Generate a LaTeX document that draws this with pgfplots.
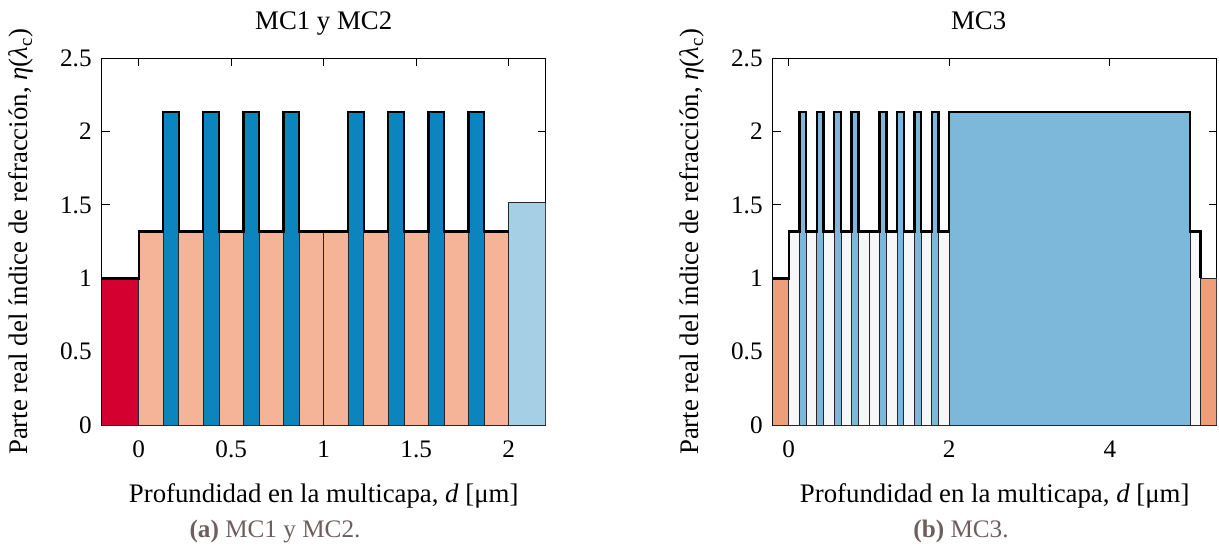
\documentclass[border=0pt]{standalone}
\usepackage{fontspec}
\setmainfont{Liberation Serif}
\usepackage{pgfplots}
\pgfplotsset{compat=1.18}

% colores de las capas
\definecolor{aire}{HTML}{D40030}
\definecolor{bajo}{HTML}{F5B497}
\definecolor{alto}{HTML}{0C85BE}
\definecolor{vidrio}{HTML}{A4CFE4}
\definecolor{aireb}{HTML}{EF9E7A}
\definecolor{bajob}{HTML}{F7F7F7}
\definecolor{altob}{HTML}{7DB7D9}
\definecolor{pie}{RGB}{110,95,95}

% una capa: inicio, fin, índice, color
\newcommand{\capa}[4]{%
  \addplot[draw=black!85, line width=0.45pt, fill=#4]
    coordinates {(#1,0) (#1,#3) (#2,#3) (#2,0)} -- cycle;}

\newcommand{\fuente}{\fontsize{12.6}{15}\selectfont}
\newcommand{\fuenteg}{\fontsize{13.4}{16}\selectfont}

\pgfplotsset{
  multicapa/.style={
    scale only axis,
    width=222pt, height=183.35pt,
    anchor=south west,
    ymin=0, ymax=2.5,
    ytick={0,0.5,1,1.5,2,2.5},
    axis line style={line width=0.5pt},
    tick style={black, line width=0.5pt},
    major tick length=4pt,
    /pgf/number format/assume math mode=true,
    every tick label/.append style={font=\fuente},
    xticklabel style={anchor=base, yshift=-16pt},
    yticklabel style={xshift=-1.5pt},
    label style={font=\fuenteg},
    title style={font=\fuenteg, at={(0.5,1)}, anchor=base, yshift=8.5pt},
    xlabel style={at={(axis description cs:0.5,0)}, anchor=base, yshift=-38.5pt},
    ylabel style={at={(axis description cs:-0.182,0.5)}, anchor=center},
    xlabel={Profundidad en la multicapa, \textit{d} [μm]},
    ylabel={Parte real del índice de refracción, \textit{η}(\textit{λ}\textsubscript{c})},
  }
}

\begin{document}
\begin{tikzpicture}
\path[use as bounding box] (0,0) rectangle (609.5pt,273.5pt);

% ---------------- MC1 y MC2 ----------------
\begin{axis}[multicapa, at={(50.85pt,61pt)},
  xmin=-0.2, xmax=2.2, xtick={0,0.5,1,1.5,2},
  title={MC1 y MC2}]
\capa{-0.2}{0}{1}{aire}
% MC1
\capa{0}{0.132}{1.32}{bajo}
\capa{0.132}{0.217}{2.135}{alto}
\capa{0.217}{0.349}{1.32}{bajo}
\capa{0.349}{0.434}{2.135}{alto}
\capa{0.434}{0.566}{1.32}{bajo}
\capa{0.566}{0.651}{2.135}{alto}
\capa{0.651}{0.783}{1.32}{bajo}
\capa{0.783}{0.868}{2.135}{alto}
\capa{0.868}{1}{1.32}{bajo}
% MC2
\capa{1}{1.132}{1.32}{bajo}
\capa{1.132}{1.217}{2.135}{alto}
\capa{1.217}{1.349}{1.32}{bajo}
\capa{1.349}{1.434}{2.135}{alto}
\capa{1.434}{1.566}{1.32}{bajo}
\capa{1.566}{1.651}{2.135}{alto}
\capa{1.651}{1.783}{1.32}{bajo}
\capa{1.783}{1.868}{2.135}{alto}
\capa{1.868}{2}{1.32}{bajo}
% sustrato
\capa{2}{2.2}{1.515}{vidrio}
% perfil de índice
\addplot[black, line width=1.2pt, const plot] coordinates {
  (-0.2,1) (0,1.32)
  (0.132,2.135) (0.217,1.32) (0.349,2.135) (0.434,1.32)
  (0.566,2.135) (0.651,1.32) (0.783,2.135) (0.868,1.32)
  (1,1.32)
  (1.132,2.135) (1.217,1.32) (1.349,2.135) (1.434,1.32)
  (1.566,2.135) (1.651,1.32) (1.783,2.135) (1.868,1.32)
  (2,1.32)};
\end{axis}

% ---------------- MC3 ----------------
\begin{axis}[multicapa, at={(386.35pt,61pt)},
  xmin=-0.2, xmax=5.332, xtick={0,2,4},
  title={MC3}, title style={xshift=-8pt}]
\capa{-0.2}{0}{1}{aireb}
\capa{0}{0.132}{1.32}{bajob}
\capa{0.132}{0.217}{2.135}{altob}
\capa{0.217}{0.349}{1.32}{bajob}
\capa{0.349}{0.434}{2.135}{altob}
\capa{0.434}{0.566}{1.32}{bajob}
\capa{0.566}{0.651}{2.135}{altob}
\capa{0.651}{0.783}{1.32}{bajob}
\capa{0.783}{0.868}{2.135}{altob}
\capa{0.868}{1}{1.32}{bajob}
\capa{1}{1.132}{1.32}{bajob}
\capa{1.132}{1.217}{2.135}{altob}
\capa{1.217}{1.349}{1.32}{bajob}
\capa{1.349}{1.434}{2.135}{altob}
\capa{1.434}{1.566}{1.32}{bajob}
\capa{1.566}{1.651}{2.135}{altob}
\capa{1.651}{1.783}{1.32}{bajob}
\capa{1.783}{1.868}{2.135}{altob}
\capa{1.868}{2}{1.32}{bajob}
\capa{2}{5}{2.135}{altob}
\capa{5}{5.132}{1.32}{bajob}
\capa{5.132}{5.332}{1}{aireb}
\addplot[black, line width=1.2pt, const plot] coordinates {
  (-0.2,1) (0,1.32)
  (0.132,2.135) (0.217,1.32) (0.349,2.135) (0.434,1.32)
  (0.566,2.135) (0.651,1.32) (0.783,2.135) (0.868,1.32)
  (1,1.32)
  (1.132,2.135) (1.217,1.32) (1.349,2.135) (1.434,1.32)
  (1.566,2.135) (1.651,1.32) (1.783,2.135) (1.868,1.32)
  (2,2.135) (5,1.32) (5.132,1)};
\end{axis}

% pies de subfigura
\node[anchor=base, text=pie, font=\fuente] at (137.5pt,5pt) {\textbf{(a)} MC1 y MC2.};
\node[anchor=base, text=pie, font=\fuente] at (480.5pt,5pt) {\textbf{(b)} MC3.};
\end{tikzpicture}
\end{document}
